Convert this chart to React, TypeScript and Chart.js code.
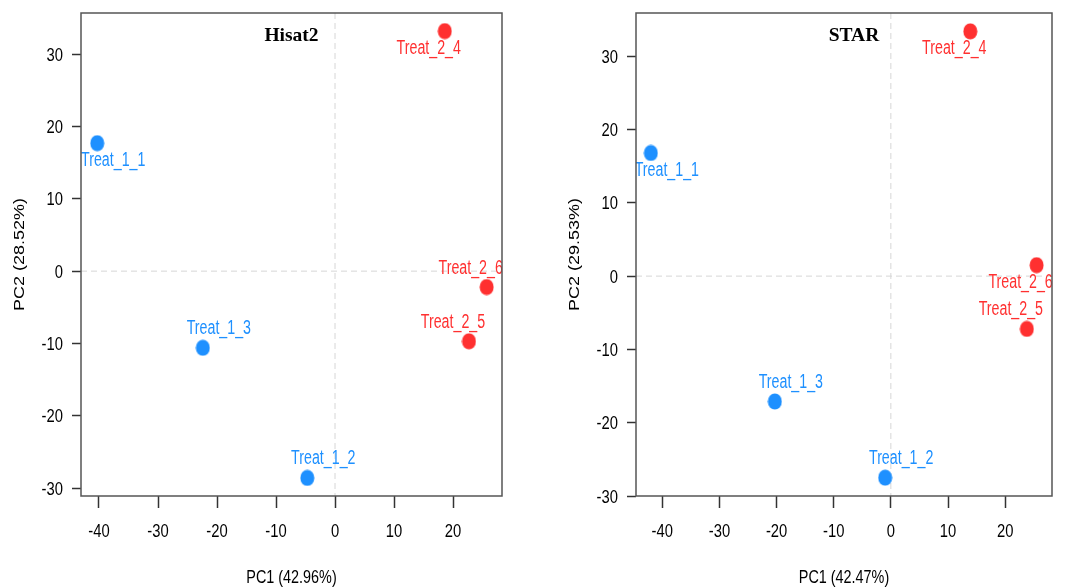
import React, { useEffect, useRef } from 'react';
import { Chart, registerables } from 'chart.js';

Chart.register(...registerables);

// ---------- data ----------
const sampleNames = ['Treat_1_1', 'Treat_1_2', 'Treat_1_3', 'Treat_2_4', 'Treat_2_5', 'Treat_2_6'];
const sampleGroups = [0, 0, 0, 1, 1, 1];
const groupColors = ['#1E90FF', '#FF3030'];

const xTickValues = [-40, -30, -20, -10, 0, 10, 20];
const yTickValues = [-30, -20, -10, 0, 10, 20, 30];

const hisatTitle = 'Hisat2';
const hisatPC1 = [-40.3, -4.7, -22.4, 18.6, 22.7, 25.7];
const hisatPC2 = [17.7, -28.6, -10.6, 33.2, -9.7, -2.2];
const hisatXLabel = 'PC1 (42.96%)';
const hisatYLabel = 'PC2 (28.52%)';
const hisatXRange = [-43.05, 28.3];
const hisatYRange = [-31.1, 35.7];
const hisatLabelSide = ['below-right', 'above-right', 'above-right', 'below-left', 'above-left', 'above-left'];

const starTitle = 'STAR';
const starPC1 = [-42.0, -1.0, -20.3, 13.9, 23.8, 25.5];
const starPC2 = [16.8, -27.5, -17.1, 33.4, -7.2, 1.5];
const starXLabel = 'PC1 (42.47%)';
const starYLabel = 'PC2 (29.53%)';
const starXRange = [-44.6, 28.2];
const starYRange = [-30.0, 35.9];
const starLabelSide = ['below-right', 'above-right', 'above-right', 'below-left', 'above-left', 'below-left'];

const SANS = "'Liberation Sans', Arial, Helvetica, sans-serif";
const SERIF = "'Liberation Serif', 'Times New Roman', serif";

function squishText(
  ctx: CanvasRenderingContext2D,
  text: string,
  x: number,
  y: number,
  font: string,
  color: string,
  align: CanvasTextAlign,
  baseline: CanvasTextBaseline,
  sx: number,
  rotate = false
) {
  ctx.save();
  ctx.font = font;
  ctx.fillStyle = color;
  ctx.textAlign = align;
  ctx.textBaseline = baseline;
  ctx.translate(x, y);
  if (rotate) {
    ctx.rotate(-Math.PI / 2);
    ctx.scale(1, sx);
  } else {
    ctx.scale(sx, 1);
  }
  ctx.fillText(text, 0, 0);
  ctx.restore();
}

function ellipseImage(color: string) {
  const c = document.createElement('canvas');
  c.width = 15;
  c.height = 17;
  const g = c.getContext('2d')!;
  g.fillStyle = color;
  g.beginPath();
  g.ellipse(7.5, 8.5, 7, 8, 0, 0, Math.PI * 2);
  g.fill();
  return c;
}

type PanelProps = {
  title: string;
  pc1: number[];
  pc2: number[];
  xLabel: string;
  yLabel: string;
  xRange: number[];
  yRange: number[];
  labelSide: string[];
  width: number;
  height: number;
  yAxisWidth: number;
  padRight: number;
  yTitleX: number;
  titleShift: number;
};

function Panel(p: PanelProps) {
  const ref = useRef<HTMLCanvasElement | null>(null);
  useEffect(() => {
    if (!ref.current) return;
    const colors = sampleGroups.map((g) => groupColors[g]);
    const images = colors.map((c) => ellipseImage(c));
    const overlay = {
      id: 'pcaOverlay',
      beforeDatasetsDraw(chart: any) {
        const { ctx, chartArea: a, scales } = chart;
        const x0 = scales.x.getPixelForValue(0);
        const y0 = scales.y.getPixelForValue(0);
        ctx.save();
        ctx.strokeStyle = '#d6d6d6';
        ctx.lineWidth = 1;
        ctx.setLineDash([6, 4]);
        ctx.beginPath();
        ctx.moveTo(x0, a.top);
        ctx.lineTo(x0, a.bottom);
        ctx.moveTo(a.left, y0);
        ctx.lineTo(a.right, y0);
        ctx.stroke();
        ctx.restore();
      },
      afterDatasetsDraw(chart: any) {
        const { ctx, chartArea: a, scales } = chart;
        const meta = chart.getDatasetMeta(0);
        // point labels (clipped to plot box)
        ctx.save();
        ctx.beginPath();
        ctx.rect(a.left, a.top, a.right - a.left, a.bottom - a.top);
        ctx.clip();
        meta.data.forEach((pt: any, i: number) => {
          const side = p.labelSide[i];
          const dx = side.includes('right') ? 16 : -16;
          const dy = side.includes('above') ? -13.5 : 23;
          squishText(ctx, sampleNames[i], pt.x + dx, pt.y + dy, `19.5px ${SANS}`, colors[i], 'center', 'alphabetic', 0.73);
        });
        ctx.restore();
        // panel title
        ctx.save();
        ctx.font = `bold 19.5px ${SERIF}`;
        ctx.fillStyle = '#000';
        ctx.textAlign = 'center';
        ctx.textBaseline = 'alphabetic';
        ctx.fillText(p.title, (a.left + a.right) / 2 + p.titleShift, a.top + 28);
        ctx.restore();
        // box
        ctx.save();
        ctx.strokeStyle = '#555';
        ctx.lineWidth = 1.5;
        ctx.strokeRect(a.left, a.top, a.right - a.left, a.bottom - a.top);
        ctx.restore();
        // tick labels
        const tickFont = `18.5px ${SANS}`;
        scales.x.ticks.forEach((t: any) => {
          squishText(ctx, String(t.value), scales.x.getPixelForValue(t.value), a.bottom + 41, tickFont, '#000', 'center', 'alphabetic', 0.8);
        });
        scales.y.ticks.forEach((t: any) => {
          squishText(ctx, String(t.value), a.left - 18, scales.y.getPixelForValue(t.value) + 6.5, tickFont, '#000', 'right', 'alphabetic', 0.8);
        });
        // axis titles
        squishText(ctx, p.xLabel, (a.left + a.right) / 2, 583, `18px ${SANS}`, '#000', 'center', 'alphabetic', 0.8);
        squishText(ctx, p.yLabel, p.yTitleX, (a.top + a.bottom) / 2, `18px ${SANS}`, '#000', 'center', 'middle', 0.78, true);
      },
    };
    const chart = new Chart(ref.current, {
      type: 'scatter',
      data: {
        datasets: [
          {
            data: p.pc1.map((v, i) => ({ x: v, y: p.pc2[i] })),
            backgroundColor: colors,
            pointStyle: images as any,
            borderWidth: 0,
            pointRadius: 7,
            pointHoverRadius: 7,
          },
        ],
      },
      options: {
        responsive: false,
        animation: false,
        events: [],
        layout: { padding: { left: 0, top: 13, right: p.padRight, bottom: 0 } },
        plugins: { legend: { display: false }, tooltip: { enabled: false } },
        scales: {
          x: {
            type: 'linear',
            min: p.xRange[0],
            max: p.xRange[1],
            afterBuildTicks: (s: any) => {
              s.ticks = xTickValues.map((v) => ({ value: v }));
            },
            afterFit: (s: any) => {
              s.height = p.height - 496;
              s.paddingLeft = 0;
              s.paddingRight = 0;
            },
            border: { display: false },
            grid: { drawOnChartArea: false, drawTicks: true, tickLength: 12, tickColor: '#333', tickWidth: 1.5 },
            ticks: { display: false, autoSkip: false },
            title: { display: false },
          },
          y: {
            type: 'linear',
            min: p.yRange[0],
            max: p.yRange[1],
            afterBuildTicks: (s: any) => {
              s.ticks = yTickValues.map((v) => ({ value: v }));
            },
            afterFit: (s: any) => {
              s.width = p.yAxisWidth;
              s.paddingTop = 0;
              s.paddingBottom = 0;
            },
            border: { display: false },
            grid: { drawOnChartArea: false, drawTicks: true, tickLength: 9, tickColor: '#333', tickWidth: 1.5 },
            ticks: { display: false, autoSkip: false },
            title: { display: false },
          },
        },
      },
      plugins: [overlay],
    });
    return () => chart.destroy();
  }, []);
  return <canvas ref={ref} width={p.width} height={p.height} style={{ width: p.width, height: p.height, display: 'block' }} />;
}

export default function App() {
  return (
    <div style={{ position: 'fixed', left: 0, top: 0, width: 1077, height: 588, background: '#fff' }}>
      <div style={{ position: 'absolute', left: 0, top: 0 }}>
        <Panel
          title={hisatTitle}
          pc1={hisatPC1}
          pc2={hisatPC2}
          xLabel={hisatXLabel}
          yLabel={hisatYLabel}
          xRange={hisatXRange}
          yRange={hisatYRange}
          labelSide={hisatLabelSide}
          width={540}
          height={588}
          yAxisWidth={81}
          padRight={38}
          yTitleX={20}
          titleShift={0}
        />
      </div>
      <div style={{ position: 'absolute', left: 540, top: 0 }}>
        <Panel
          title={starTitle}
          pc1={starPC1}
          pc2={starPC2}
          xLabel={starXLabel}
          yLabel={starYLabel}
          xRange={starXRange}
          yRange={starYRange}
          labelSide={starLabelSide}
          width={537}
          height={588}
          yAxisWidth={96}
          padRight={25}
          yTitleX={35}
          titleShift={10}
        />
      </div>
    </div>
  );
}
